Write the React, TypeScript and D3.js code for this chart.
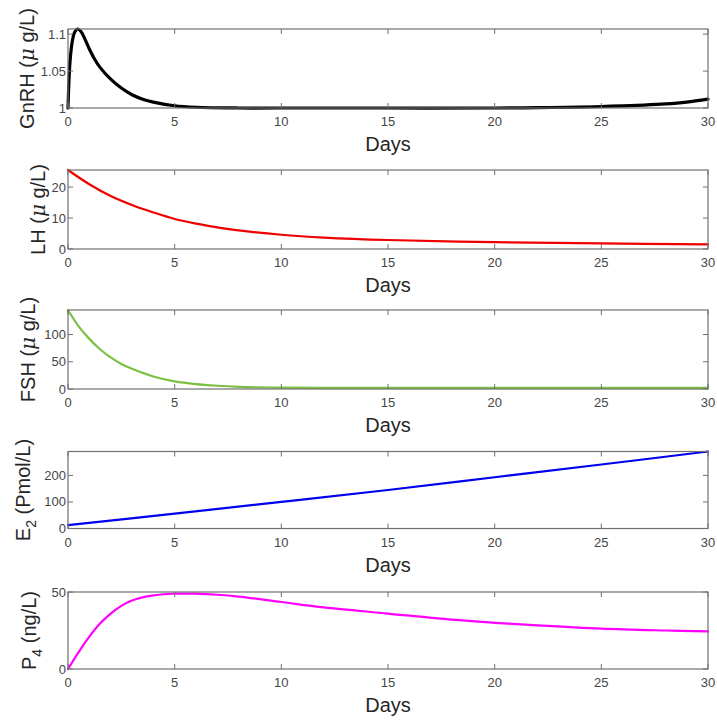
import React from "react";
import * as d3 from "d3";

const W = 717;
const H = 721;

const gnrhDays = [0, 0.05, 0.1, 0.2, 0.3, 0.45, 0.6, 0.8, 1.0, 1.25, 1.5, 2, 2.5, 3, 3.5, 4, 5, 6, 8, 10, 15, 20, 22, 24, 25, 26, 27, 28, 29, 30];
const gnrhValues = [1.0, 1.04, 1.065, 1.09, 1.102, 1.107, 1.104, 1.093, 1.08, 1.066, 1.055, 1.039, 1.027, 1.018, 1.012, 1.008, 1.003, 1.001, 1.0, 1.0, 1.0, 1.0, 1.0005, 1.0012, 1.002, 1.003, 1.004, 1.0055, 1.008, 1.012];

const lhDays = [0, 1, 2, 3, 4, 5, 6, 7, 8, 10, 12, 15, 20, 25, 30];
const lhValues = [25.5, 20.9, 17.1, 14.2, 11.8, 9.7, 8.2, 7.0, 6.0, 4.6, 3.7, 2.9, 2.2, 1.8, 1.5];

const fshDays = [0, 0.5, 1, 1.5, 2, 2.5, 3, 4, 5, 6, 7, 8, 9, 10, 12, 15, 20, 25, 30];
const fshValues = [145, 115, 92, 73, 58, 46, 37, 23, 14, 9, 6, 4, 3, 2.5, 2.2, 2, 2, 2, 2];

const e2Days = [0, 5, 10, 15, 20, 25, 30];
const e2Values = [13, 56, 100, 145, 193, 241, 290];

const p4Days = [0, 0.5, 1, 1.5, 2, 2.5, 3, 4, 5, 5.5, 6, 7, 8, 10, 12, 15, 18, 20, 22, 25, 28, 30];
const p4Values = [0, 11, 21, 29.5, 36, 41, 44.5, 47.8, 48.9, 49, 48.9, 48.2, 47, 43.5, 40, 36, 32, 30, 28.3, 26.2, 25, 24.4];

const xTicks = [0, 5, 10, 15, 20, 25, 30];
const gnrhTicks = [1, 1.05, 1.1];
const lhTicks = [0, 10, 20];
const fshTicks = [0, 50, 100];
const e2Ticks = [0, 100, 200];
const p4Ticks = [0, 50];

const FONT = "'Liberation Sans', Arial, Helvetica, sans-serif";
const FRAME = "#707070";
const TICKTXT = "#454545";
const LABEL = "#262626";

type Panel = {
  days: number[];
  values: number[];
  domain: [number, number];
  ticks: number[];
  color: string;
  width: number;
  top: number;
  bottom: number;
  labelX: number;
  main: string;
  sub?: string;
  unit: React.ReactNode;
};

const mu = <tspan fontFamily="'DejaVu Serif', serif" fontStyle="italic">μ</tspan>;

const panels: Panel[] = [
  {
    days: gnrhDays, values: gnrhValues, domain: [1, 1.107], ticks: gnrhTicks,
    color: "#000000", width: 3.2, top: 29, bottom: 108, labelX: 34,
    main: "GnRH ", unit: <>({mu} g/L)</>,
  },
  {
    days: lhDays, values: lhValues, domain: [0, 25.5], ticks: lhTicks,
    color: "#ee0000", width: 2.2, top: 170, bottom: 249, labelX: 45,
    main: "LH ", unit: <>({mu} g/L)</>,
  },
  {
    days: fshDays, values: fshValues, domain: [0, 145], ticks: fshTicks,
    color: "#7cc043", width: 2.2, top: 310, bottom: 389, labelX: 35,
    main: "FSH ", unit: <>({mu} g/L)</>,
  },
  {
    days: e2Days, values: e2Values, domain: [0, 290], ticks: e2Ticks,
    color: "#0000ee", width: 2.2, top: 451.5, bottom: 528.5, labelX: 30,
    main: "E", sub: "2", unit: <> (Pmol/L)</>,
  },
  {
    days: p4Days, values: p4Values, domain: [0, 50], ticks: p4Ticks,
    color: "#ff00ff", width: 2.2, top: 592, bottom: 669, labelX: 36,
    main: "P", sub: "4", unit: <> (ng/L)</>,
  },
];

const X0 = 68;
const X1 = 708;
const TICKLEN = 5;

function PanelView({ p }: { p: Panel }) {
  const x = d3.scaleLinear().domain([0, 30]).range([X0, X1]);
  const y = d3.scaleLinear().domain(p.domain).range([p.bottom, p.top]);
  const pts = p.days.map((d, i) => [d, p.values[i]] as [number, number]);
  const line = d3
    .line<[number, number]>()
    .x((d) => x(d[0]))
    .y((d) => y(d[1]))
    .curve(d3.curveCatmullRom.alpha(0.5));
  const midY = (p.top + p.bottom) / 2;
  return (
    <g>
      <defs>
        <clipPath id={`clip-${p.top}`}>
          <rect x={X0 - 2} y={p.top - 3} width={X1 - X0 + 4} height={p.bottom - p.top + 6} />
        </clipPath>
      </defs>
      <path d={line(pts) || ""} fill="none" stroke={p.color} strokeWidth={p.width} strokeLinejoin="round" strokeLinecap="round" clipPath={`url(#clip-${p.top})`} />
      <rect x={X0} y={p.top} width={X1 - X0} height={p.bottom - p.top} fill="none" stroke={FRAME} strokeWidth={1.2} />
      {xTicks.map((t) => (
        <g key={`xt${t}`}>
          <line x1={x(t)} x2={x(t)} y1={p.bottom} y2={p.bottom - TICKLEN} stroke={FRAME} strokeWidth={1} />
          <line x1={x(t)} x2={x(t)} y1={p.top} y2={p.top + TICKLEN} stroke={FRAME} strokeWidth={1} />
          <text x={x(t)} y={p.bottom + 18} textAnchor="middle" fontSize={13} fill={TICKTXT} fontFamily={FONT}>{t}</text>
        </g>
      ))}
      {p.ticks.map((t) => (
        <g key={`yt${t}`}>
          <line x1={X0} x2={X0 + TICKLEN} y1={y(t)} y2={y(t)} stroke={FRAME} strokeWidth={1} />
          <line x1={X1} x2={X1 - TICKLEN} y1={y(t)} y2={y(t)} stroke={FRAME} strokeWidth={1} />
          <text x={X0 - 2} y={y(t) + 4.5} textAnchor="end" fontSize={13} fill={TICKTXT} fontFamily={FONT}>{t}</text>
        </g>
      ))}
      <text x={(X0 + X1) / 2} y={p.bottom + 43} textAnchor="middle" fontSize={20} fill={LABEL} fontFamily={FONT}>Days</text>
      <text transform={`translate(${p.labelX},${midY}) rotate(-90)`} textAnchor="middle" fontSize={20} fill={LABEL} fontFamily={FONT}>
        {p.main}
        {p.sub ? <tspan dy={6} fontSize={14}>{p.sub}</tspan> : null}
        {p.sub ? <tspan dy={-6}>{p.unit}</tspan> : p.unit}
      </text>
    </g>
  );
}

export default function App() {
  return (
    <svg width={W} height={H} style={{ position: "absolute", left: 0, top: 0, background: "#fff" }}>
      <rect x={0} y={0} width={W} height={H} fill="#fff" />
      {panels.map((p) => (
        <PanelView key={p.top} p={p} />
      ))}
    </svg>
  );
}
